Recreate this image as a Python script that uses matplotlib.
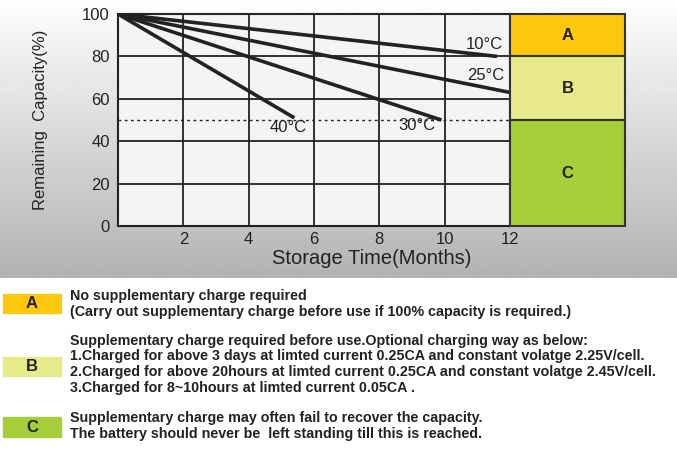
import numpy as np
import matplotlib
matplotlib.use("Agg")
import matplotlib.pyplot as plt

plt.rcParams['font.family'] = ['Liberation Sans', 'DejaVu Sans']

# ---- data ----
months_10 = [0, 11.6]
cap_10 = [100, 80]
months_25 = [0, 12]
cap_25 = [100, 63]
months_30 = [0, 9.9]
cap_30 = [100, 50]
months_40 = [0, 5.4]
cap_40 = [100, 51]
curve_labels = ["10°C", "25°C", "30°C", "40°C"]
label_pos_x = [11.2, 11.25, 9.15, 5.2]
label_pos_y = [85.5, 71, 47.5, 46.5]
threshold = 50
zone_names = ["A", "B", "C"]
zone_top = [100, 80, 50]
zone_bottom = [80, 50, 0]
zone_colors = ["#fdc70c", "#e8e98a", "#a6ce39"]
x_ticks = [2, 4, 6, 8, 10, 12]
y_ticks = [0, 20, 40, 60, 80, 100]
legend_texts = [
    ["No supplementary charge required",
     "(Carry out supplementary charge before use if 100% capacity is required.)"],
    ["Supplementary charge required before use.Optional charging way as below:",
     "1.Charged for above 3 days at limted current 0.25CA and constant volatge 2.25V/cell.",
     "2.Charged for above 20hours at limted current 0.25CA and constant volatge 2.45V/cell.",
     "3.Charged for 8~10hours at limted current 0.05CA ."],
    ["Supplementary charge may often fail to recover the capacity.",
     "The battery should never be  left standing till this is reached."],
]

W, H = 677, 453
fig = plt.figure(figsize=(W / 100, H / 100), dpi=100)

# background gradient (top region)
bg = fig.add_axes([0, 1 - 278 / H, 1, 278 / H])
grad = np.linspace(0.995, 0.70, 256).reshape(-1, 1)
bg.imshow(grad, aspect='auto', cmap='gray', vmin=0, vmax=1, extent=[0, 1, 0, 1])
bg.set_axis_off()

def px_axes(x0, y0, x1, y1):
    return [x0 / W, 1 - y1 / H, (x1 - x0) / W, (y1 - y0) / H]

ax = fig.add_axes(px_axes(118, 14, 510, 226))
ax.set_facecolor("#f3f4f6")
ax.set_xlim(0, 12)
ax.set_ylim(0, 100)
ax.set_xticks(x_ticks)
ax.set_yticks(y_ticks)
ax.grid(True, color="#222222", linewidth=1.3)
ax.set_axisbelow(True)
for s in ax.spines.values():
    s.set_color("#222222")
    s.set_linewidth(1.5)
ax.tick_params(length=0, labelsize=12, colors="#222222")
ax.tick_params(axis='x', pad=4)
ax.tick_params(axis='y', pad=6)

# threshold dotted line
ax.axhline(threshold, color="#222222", linestyle=(0, (2, 2.5)), linewidth=1.0, zorder=3)

series = [(months_10, cap_10), (months_25, cap_25), (months_30, cap_30), (months_40, cap_40)]
for (mx, cy) in series:
    ax.plot(mx, cy, color="#222222", linewidth=2.6, solid_capstyle='butt', zorder=4)
for lbl, lx, ly in zip(curve_labels, label_pos_x, label_pos_y):
    ax.text(lx, ly, lbl, fontsize=12, color="#222222", ha='center', va='center', zorder=5)

# zone boxes on right
zone_width = 115 / (392 / 12)
heights = [t - b for t, b in zip(zone_top, zone_bottom)]
ax.bar([12] * 3, heights, bottom=zone_bottom, width=zone_width, align='edge',
       color=zone_colors, edgecolor="#333333", linewidth=1.5, clip_on=False, zorder=4)
for name, t, b in zip(zone_names, zone_top, zone_bottom):
    ax.text(12 + zone_width / 2, (t + b) / 2, name, fontsize=12, fontweight='bold',
            color="#222222", ha='center', va='center', clip_on=False, zorder=5)

ax.set_ylabel("Remaining  Capacity(%)", fontsize=12, color="#222222")
ax.yaxis.set_label_coords(-(118 - 40) / 392, 0.5)
ax.set_xlabel("Storage Time(Months)", fontsize=14.5, color="#222222")
ax.xaxis.set_label_coords((371.5 - 118) / 392, -(259 - 226) / 212)
ax.xaxis.label.set_va('center')
ax.yaxis.label.set_va('center')

# bottom legend
boxes_y = [(294, 313), (357, 376), (417, 437)]
line_y = [[296, 312], [341, 356, 372, 388], [418, 434]]
for name, col, (y0, y1), texts, ys in zip(zone_names, zone_colors, boxes_y, legend_texts, line_y):
    fig.patches.append(plt.Rectangle((3 / W, 1 - y1 / H), 58 / W, (y1 - y0) / H,
                                     transform=fig.transFigure, color=col, zorder=1))
    fig.text(32 / W, 1 - (y0 + y1) / 2 / H, name, fontsize=12, fontweight='bold',
             color="#222222", ha='center', va='center')
    for t, yy in zip(texts, ys):
        fig.text(70 / W, 1 - yy / H, t, fontsize=10.3, fontweight='bold',
                 color="#222222", ha='left', va='center')

fig.savefig("out.png", dpi=100)
